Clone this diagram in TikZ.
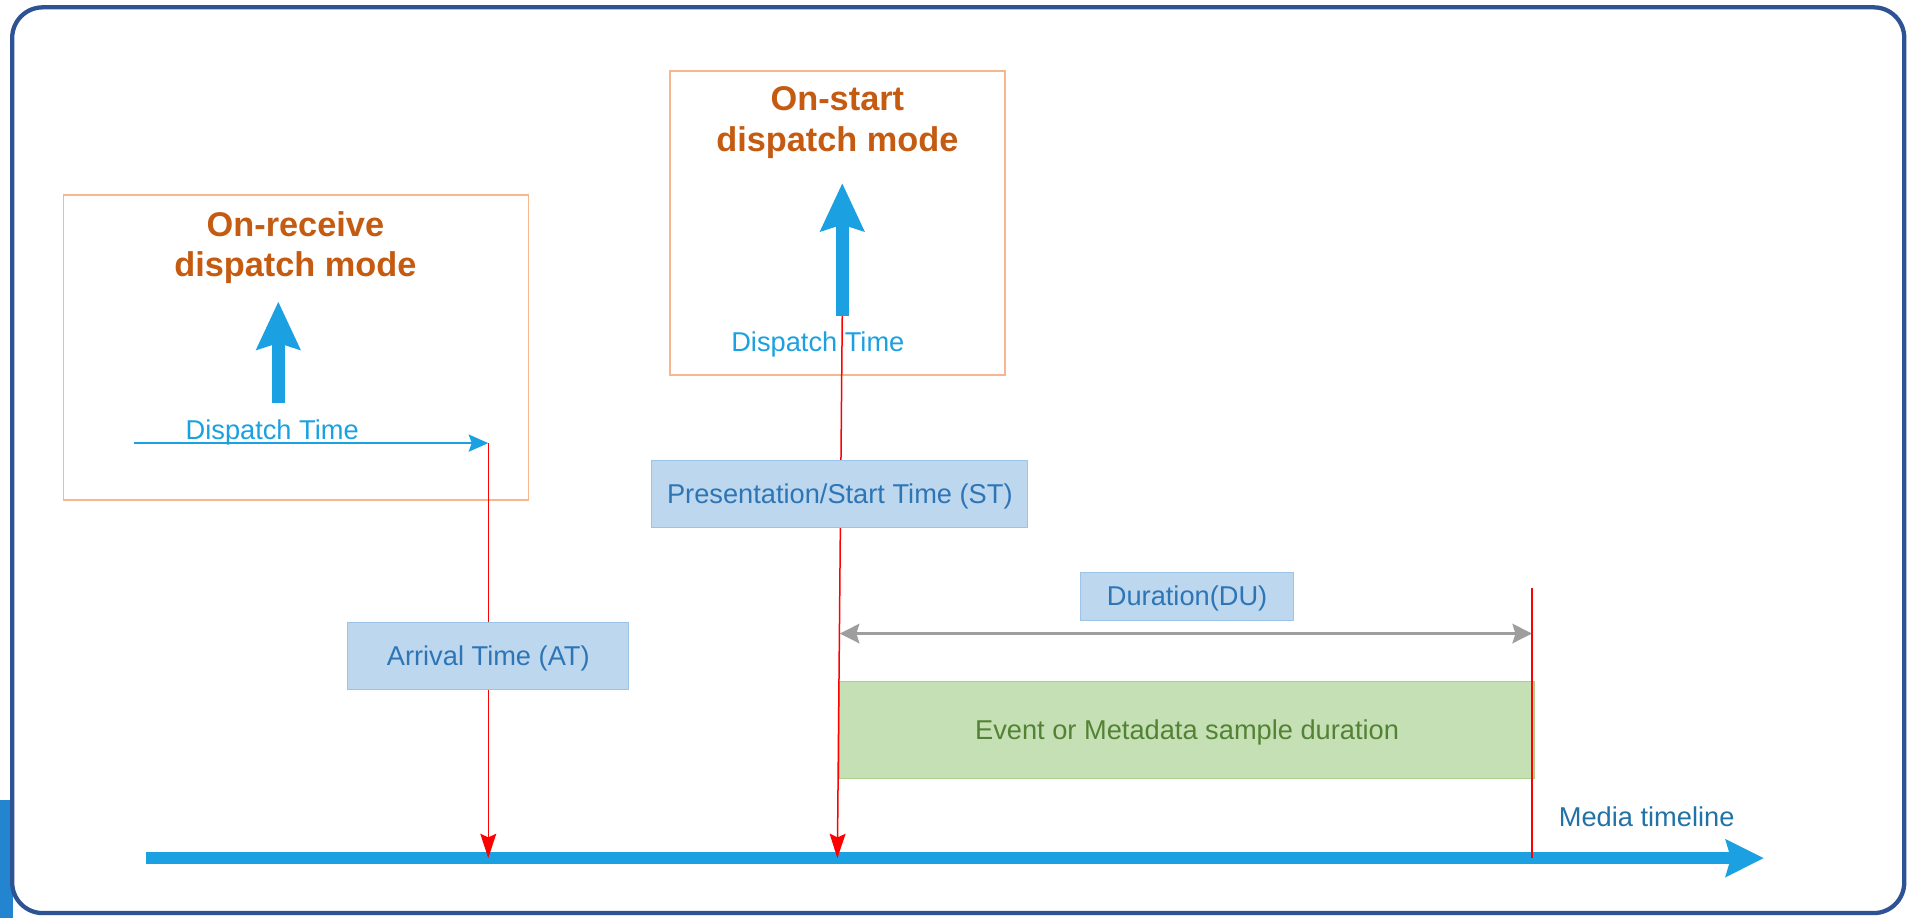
\documentclass[tikz,border=0pt]{standalone}
\usepackage{fontspec}
\setmainfont{Liberation Sans}
\usetikzlibrary{arrows.meta}
\definecolor{frameblue}{HTML}{2E5395}
\definecolor{slideblue}{HTML}{2385CF}
\definecolor{peach}{HTML}{F6B78E}
\definecolor{burnt}{HTML}{C55A11}
\definecolor{skyblue}{HTML}{1BA1E2}
\definecolor{labelfill}{HTML}{BDD7EE}
\definecolor{labelline}{HTML}{9DC3E6}
\definecolor{labeltext}{HTML}{2E75B6}
\definecolor{samplefill}{HTML}{C5E0B4}
\definecolor{sampleline}{HTML}{A9D18E}
\definecolor{sampletext}{HTML}{548235}
\definecolor{durgray}{HTML}{9E9E9E}
\definecolor{mediablue}{HTML}{2172A6}

\begin{document}
\begin{tikzpicture}[x=0.02cm, y=-0.02cm,
  modebox/.style={draw=peach, line width=0.9pt, inner sep=0pt},
  modetitle/.style={text=burnt, align=center, font=\bfseries\fontsize{16}{18.8}\selectfont},
  smalltext/.style={font=\fontsize{12.7}{15}\selectfont},
  timebox/.style={smalltext, draw=labelline, fill=labelfill, text=labeltext, inner sep=0pt, text depth=0pt, text height=1.7ex},
  dispatch/.style={draw=skyblue, line width=0.22cm, -{Stealth[length=0.78cm, width=0.7cm, inset=0.1cm]}},
  marker/.style={draw=red, line width=0.7pt, -{Stealth[length=0.4cm, width=0.26cm, inset=0.06cm]}}]

\useasboundingbox (0,0) rectangle (1568,752);

% --- slide frame ---
\fill[slideblue] (0,655) rectangle (11,752);
\draw[frameblue, line width=2pt, rounded corners=0.5cm, fill=white] (10,6) rectangle (1560,748);

% --- layout helpers ---
\def\AT{400}    % arrival time x
\def\ST{686}    % start time x
\def\EN{1255}   % end of sample x
\def\TL{703}    % timeline y

% --- points on the timeline ---
\coordinate (tlstart) at (120,\TL);
\coordinate (tlend) at (1445,\TL);
\coordinate (atmark) at (\AT,\TL);
\coordinate (stmark) at (\ST,\TL);
\coordinate (enmark) at (\EN,\TL);
\coordinate (entop) at (\EN,482);

% --- dispatch arrows ---
\coordinate (recvtail) at (228,330);
\coordinate (recvhead) at (228,247);
\coordinate (starttail) at (690,259);
\coordinate (starthead) at (690,150);
\coordinate (recvfrom) at (110,363);
\coordinate (recvdt) at (\AT,363);
\coordinate (durleft) at (688,519);
\coordinate (durright) at (\EN,519);

% --- mode boxes ---
\node[modebox, minimum width=7.62cm, minimum height=5cm] (recvbox) at (242.5,285) {};
\node[modebox, minimum width=5.48cm, minimum height=4.98cm] (startbox) at (686,182.5) {};
\node[modetitle] (recvtitle) at (242,203) {On-receive\\dispatch mode};
\node[modetitle] (starttitle) at (686,100.5) {On-start\\dispatch mode};

\draw[dispatch] (recvtail) -- (recvhead);
\draw[dispatch] (starttail) -- (starthead);
\draw[skyblue, line width=1.1pt, -{Stealth[length=0.32cm, width=0.28cm, inset=0.05cm]}] (recvfrom) -- (recvdt);
\node[smalltext, text=skyblue] (recvlabel) at (223,354) {Dispatch Time};
\node[smalltext, text=skyblue] (startlabel) at (670,282) {Dispatch Time};

% --- timeline and sample ---
\draw[skyblue, line width=0.19cm, -{Stealth[length=0.62cm, width=0.6cm, inset=0.08cm]}] (tlstart) -- (tlend);
\node[smalltext, text=mediablue] (mediatext) at (1349,669) {Media timeline};
\node[timebox, draw=sampleline, fill=samplefill, text=sampletext, minimum width=11.38cm, minimum height=1.6cm] (samplebox) at (972.5,598) {Event or Metadata sample duration};
\draw[durgray, line width=1.2pt, {Stealth[length=0.32cm, width=0.32cm, inset=0.05cm]}-{Stealth[length=0.32cm, width=0.32cm, inset=0.05cm]}] (durleft) -- (durright);

% --- time markers ---
\draw[marker] (recvdt) -- (atmark);
\draw[marker] (starttail) -- (stmark);
\draw[red, line width=0.7pt] (entop) -- (enmark);

% --- time labels ---
\node[timebox, minimum width=4.6cm, minimum height=1.1cm] (atbox) at (\AT,537.5) {Arrival Time (AT)};
\node[timebox, minimum width=6.16cm, minimum height=1.1cm] (stbox) at (688,404.5) {Presentation/Start Time (ST)};
\node[timebox, minimum width=3.5cm, minimum height=0.78cm] (dubox) at (972.5,488.5) {Duration(DU)};

\end{tikzpicture}
\end{document}
